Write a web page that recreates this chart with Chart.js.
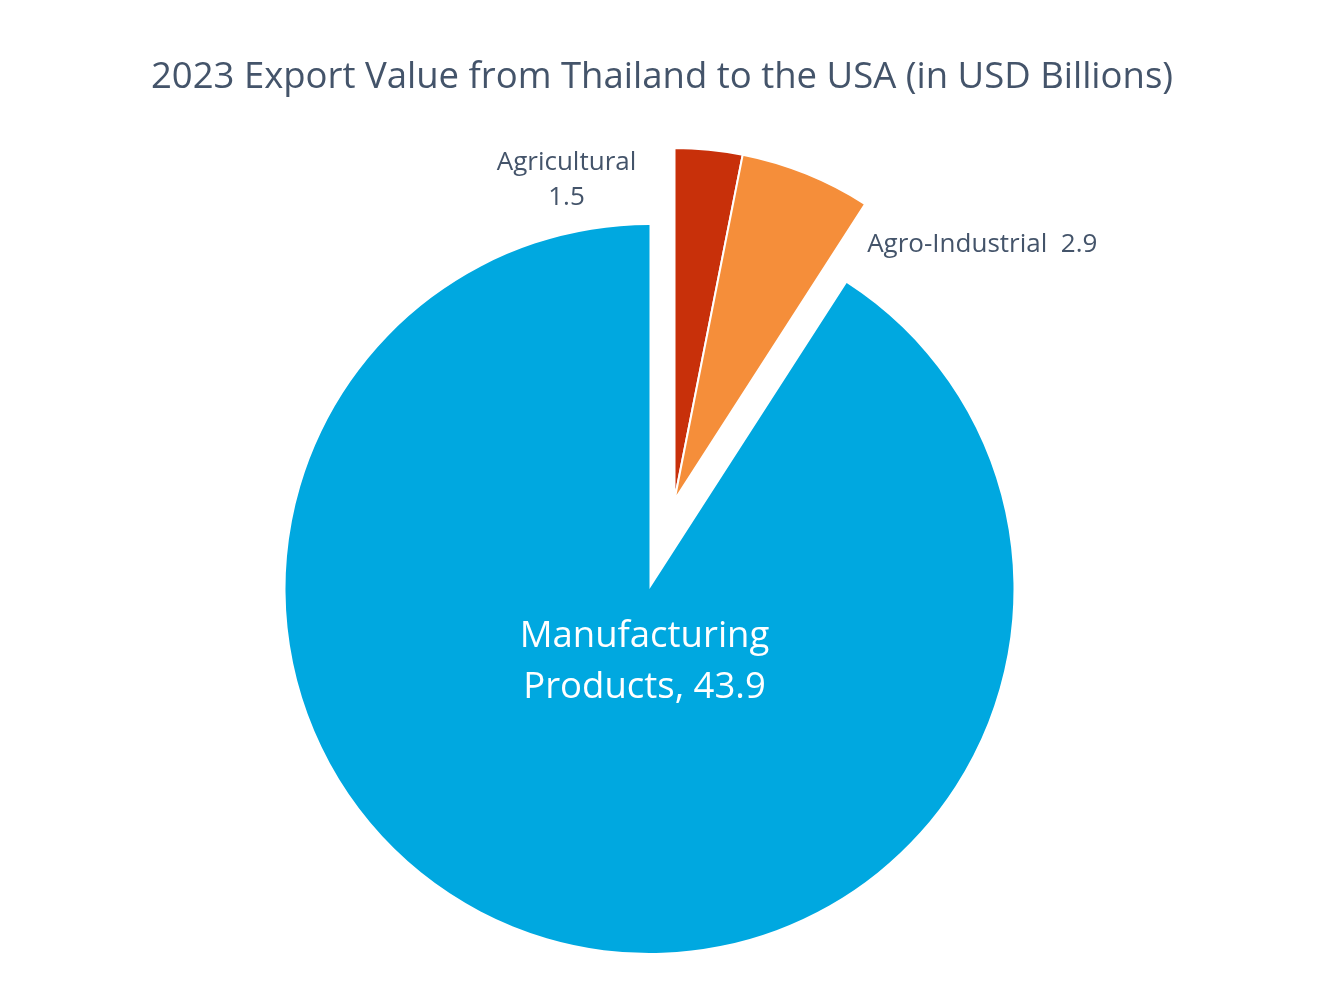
<!DOCTYPE html>
<html>
<head>
<meta charset="utf-8">
<title>2023 Export Value from Thailand to the USA</title>
<script src="https://cdn.jsdelivr.net/npm/chart.js@4.4.1/dist/chart.umd.min.js"></script>
<style>
    html, body { margin: 0; padding: 0; background: #ffffff; }
    #wrap { position: relative; width: 1341px; height: 1001px; }
    #wrap canvas { position: absolute; left: 0; top: 0; }
</style>
</head>
<body>
<div id="wrap">
    <canvas id="main-slice" width="1341" height="1001"></canvas>
    <canvas id="small-slices" width="1341" height="1001"></canvas>
</div>
<script>
/* ==========================================================
   THAILAND -> USA EXPORTS 2023 (PIE, BIG SLICE PULLED OUT)
   ========================================================== */

const chartTitle = "2023 Export Value from Thailand to the USA (in USD Billions)";

const categories = ["Agricultural", "Agro-Industrial", "Manufacturing Products"];

const exportValues = [1.5, 2.9, 43.9];

const TEXT_DARK = "#44546A";
const FONT = "'Open Sans', 'Noto Sans', sans-serif";

Chart.defaults.font.family = FONT;

// draws the data labels (and the title) straight onto the canvas
const sliceLabels = {
    id: "sliceLabels",
    afterDatasetsDraw(chart, args, opts) {
        const ctx = chart.ctx;
        const arcs = chart.getDatasetMeta(0).data;
        ctx.save();
        if (opts.title) {
            ctx.font = opts.title.font;
            ctx.fillStyle = opts.title.color;
            ctx.textAlign = "center";
            ctx.textBaseline = "alphabetic";
            ctx.fillText(opts.title.text, opts.title.x, opts.title.y);
        }
        opts.items.forEach((item) => {
            const arc = arcs[item.index];
            const angle = item.anchor === "start" ? arc.startAngle
                : item.anchor === "end" ? arc.endAngle : null;
            let ax = arc.x;
            let ay = arc.y;
            if (angle !== null) {
                ax += Math.cos(angle) * arc.outerRadius;
                ay += Math.sin(angle) * arc.outerRadius;
            }
            const lines = item.format(categories[item.index], exportValues[item.index]);
            ctx.font = item.font;
            ctx.fillStyle = item.color;
            ctx.textAlign = item.align;
            ctx.textBaseline = "alphabetic";
            lines.forEach((line, i) => {
                ctx.fillText(line, ax + item.dx, ay + item.dy + i * item.lineGap);
            });
        });
        ctx.restore();
    }
};

// bottom canvas: the manufacturing slice, pulled away from the centre
new Chart(document.getElementById("main-slice"), {
    type: "pie",
    data: {
        labels: categories,
        datasets: [{
            data: exportValues,
            backgroundColor: ["rgba(0,0,0,0)", "rgba(0,0,0,0)", "#00A8E0"],
            borderWidth: 0
        }]
    },
    options: {
        responsive: false,
        animation: false,
        events: [],
        radius: 364,
        layout: { padding: { top: 177, bottom: 0, left: 0, right: 42 } },
        plugins: {
            legend: { display: false },
            tooltip: { enabled: false },
            sliceLabels: {
                items: [{
                    index: 2,
                    anchor: "centre",
                    dx: -5,
                    dy: 58,
                    lineGap: 51,
                    align: "center",
                    font: "36.5px " + FONT,
                    color: "#ffffff",
                    format: (name, v) => ["Manufacturing", "Products, " + v]
                }]
            }
        }
    },
    plugins: [sliceLabels]
});

// top canvas: the two small slices plus the title
new Chart(document.getElementById("small-slices"), {
    type: "pie",
    data: {
        labels: categories,
        datasets: [{
            data: exportValues,
            backgroundColor: ["#C8300A", "#F58E3A", "rgba(0,0,0,0)"],
            borderColor: "#ffffff",
            borderWidth: [2, 2, 0]
        }]
    },
    options: {
        responsive: false,
        animation: false,
        events: [],
        radius: 352,
        layout: { padding: { top: 0, bottom: 1, left: 20, right: 12 } },
        plugins: {
            legend: { display: false },
            tooltip: { enabled: false },
            sliceLabels: {
                title: {
                    text: chartTitle,
                    x: 662,
                    y: 88,
                    font: "36.5px " + FONT,
                    color: TEXT_DARK
                },
                items: [
                    {
                        index: 0,
                        anchor: "start",
                        dx: -108,
                        dy: 22,
                        lineGap: 35,
                        align: "center",
                        font: "26px " + FONT,
                        color: TEXT_DARK,
                        format: (name, v) => [name, String(v)]
                    },
                    {
                        index: 1,
                        anchor: "end",
                        dx: 2,
                        dy: 48,
                        lineGap: 0,
                        align: "left",
                        font: "26px " + FONT,
                        color: TEXT_DARK,
                        format: (name, v) => [name + "  " + v]
                    }
                ]
            }
        }
    },
    plugins: [sliceLabels]
});
</script>
</body>
</html>
